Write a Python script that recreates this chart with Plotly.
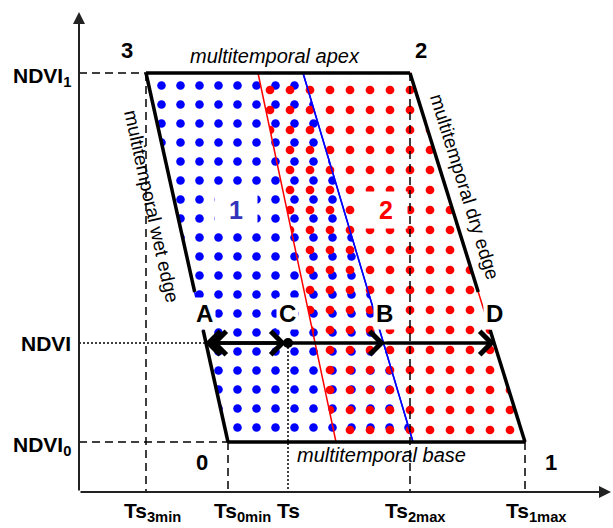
import plotly.graph_objects as go

# ---- data (Ts axis positions and NDVI levels, in chart units) ----
ts_labels = ["Ts<sub>3min</sub>", "Ts<sub>0min</sub>", "Ts", "Ts<sub>2max</sub>", "Ts<sub>1max</sub>"]
ts_values = [146, 228, 288, 410, 525]          # Ts3min, Ts0min, Ts, Ts2max, Ts1max
ndvi_labels = ["NDVI<sub>1</sub>", "NDVI", "NDVI<sub>0</sub>"]
ndvi_values = [455, 185, 86]                    # NDVI1, NDVI, NDVI0

# region 1 (blue) and region 2 (red): Ts at the apex (NDVI1) and base (NDVI0)
region1_apex = [146, 303]
region1_base = [228, 413]
region2_apex = [258, 410]
region2_base = [336, 525]

# points on the NDVI line
point_names = ["A", "C", "B", "D"]
point_ts = [205, 288, 385, 495]

corner_names = ["0", "1", "2", "3"]

origin = [79, 36]
axis_end = [611, 516]

# ---- style ----
FONT = "Liberation Sans, Arial, sans-serif"
BLUE = "#0000ff"
RED = "#ff0000"

ts3, ts0, tsv, ts2, ts1 = ts_values
n1, nv, n0 = ndvi_values


def edge_x(top, bottom, y):
    return top + (bottom - top) * (n1 - y) / (n1 - n0)


fig = go.Figure()

# region fills (dot patterns)
fig.add_trace(go.Scatter(
    x=[region1_apex[0], region1_apex[1], region1_base[1], region1_base[0], region1_apex[0]],
    y=[n1, n1, n0, n0, n1], mode="lines", fill="toself",
    fillcolor="rgba(0,0,0,0)",
    fillpattern=dict(shape=".", size=19, solidity=0.16, fgcolor=BLUE, fgopacity=1,
                     bgcolor="rgba(0,0,0,0)", fillmode="replace"),
    line=dict(color=BLUE, width=1.5), hoverinfo="skip", showlegend=False))
fig.add_trace(go.Scatter(
    x=[region2_apex[0], region2_apex[1], region2_base[1], region2_base[0], region2_apex[0]],
    y=[n1, n1, n0, n0, n1], mode="lines", fill="toself",
    fillcolor="rgba(0,0,0,0)",
    fillpattern=dict(shape=".", size=20, solidity=0.15, fgcolor=RED, fgopacity=1,
                     bgcolor="rgba(0,0,0,0)", fillmode="replace"),
    line=dict(color=RED, width=1.5), hoverinfo="skip", showlegend=False))
# blue boundary on top of red dots
fig.add_trace(go.Scatter(x=[region1_apex[1], region1_base[1]], y=[n1, n0], mode="lines",
                         line=dict(color=BLUE, width=1.5), hoverinfo="skip", showlegend=False))

# black trapezoid edges (with gaps at the A / D labels)
gap_hi, gap_lo = 236, 198
lw = 3.5
fig.add_trace(go.Scatter(x=[ts3, ts2], y=[n1, n1], mode="lines",
                         line=dict(color="black", width=lw), hoverinfo="skip", showlegend=False))
fig.add_trace(go.Scatter(x=[ts0, ts1], y=[n0, n0], mode="lines",
                         line=dict(color="black", width=lw), hoverinfo="skip", showlegend=False))
for top, bot in [(ts3, ts0), (ts2, ts1)]:
    fig.add_trace(go.Scatter(x=[top, edge_x(top, bot, gap_hi), None, edge_x(top, bot, gap_lo), bot],
                             y=[n1, gap_hi, None, gap_lo, n0], mode="lines",
                             line=dict(color="black", width=lw), hoverinfo="skip", showlegend=False))

# reference lines
dash = "8px,5px"
ref_lines = [
    ([origin[0], ts3], [n1, n1], dash),
    ([ts3, ts3], [n1, origin[1]], dash),
    ([origin[0], ts0], [n0, n0], dash),
    ([ts0, ts0], [n0, origin[1]], dash),
    ([ts2, ts2], [n1, origin[1]], dash),
    ([ts1, ts1], [n0, origin[1]], dash),
    ([origin[0], point_ts[0]], [nv, nv], "2px,2px"),
    ([tsv, tsv], [nv, origin[1]], "2px,2px"),
]
for xs, ys, d in ref_lines:
    fig.add_trace(go.Scatter(x=xs, y=ys, mode="lines", line=dict(color="black", width=1.5, dash=d),
                             hoverinfo="skip", showlegend=False))

# NDVI line A-D
fig.add_trace(go.Scatter(x=[point_ts[0], point_ts[3]], y=[nv, nv], mode="lines",
                         line=dict(color="black", width=3), hoverinfo="skip", showlegend=False))
fig.add_trace(go.Scatter(x=[tsv], y=[nv], mode="markers", marker=dict(color="black", size=10),
                         hoverinfo="skip", showlegend=False))

ann = []
# axes with arrows
ann.append(dict(x=origin[0], y=axis_end[1], ax=origin[0], ay=origin[1], axref="x", ayref="y",
                xref="x", yref="y", text="", showarrow=True, arrowhead=2, arrowsize=1.2,
                arrowwidth=2, arrowcolor="#222"))
ann.append(dict(x=axis_end[0], y=origin[1], ax=origin[0], ay=origin[1], axref="x", ayref="y",
                xref="x", yref="y", text="", showarrow=True, arrowhead=2, arrowsize=1.2,
                arrowwidth=2, arrowcolor="#222"))
# arrows on NDVI line
arrow_pairs = [(point_ts[0], tsv), (point_ts[0] + 6, tsv), (tsv - 2, point_ts[0]),
               (point_ts[2], tsv), (point_ts[3], point_ts[2])]
for head, tail in arrow_pairs:
    ann.append(dict(x=head, y=nv, ax=tail, ay=nv, axref="x", ayref="y", xref="x", yref="y",
                    text="", showarrow=True, arrowhead=4, arrowsize=1.5, arrowwidth=3,
                    arrowcolor="black"))

bold = dict(family=FONT, size=22, color="black")
# Ts labels
ts_dx = [6, 14, 0, 5, 11]
for lab, v, dx in zip(ts_labels, ts_values, ts_dx):
    ann.append(dict(x=v + dx, y=31, text="<b>%s</b>" % lab, showarrow=False, xanchor="center",
                    yanchor="top", font=dict(family=FONT, size=21, color="black")))
# NDVI labels
ndvi_dy = [-4, 0, -4]
for lab, v, dy in zip(ndvi_labels, ndvi_values, ndvi_dy):
    ann.append(dict(x=73, y=v + dy, text="<b>%s</b>" % lab, showarrow=False, xanchor="right",
                    yanchor="middle", font=dict(family=FONT, size=21, color="black")))
# corner numbers
corner_pos = [(202, 66), (551, 66), (421, 478), (127, 478)]
for name, (cx, cy) in zip(corner_names, corner_pos):
    ann.append(dict(x=cx, y=cy, text="<b>%s</b>" % name, showarrow=False, font=bold))
# point letters
for name, px in zip(point_names, point_ts):
    ann.append(dict(x=px - 1, y=215, text="<b>%s</b>" % name, showarrow=False, bgcolor="white",
                    borderpad=2, font=dict(family=FONT, size=24, color="black")))
# region numbers
ann.append(dict(x=236, y=318, text="<b>1</b>", showarrow=False, bgcolor="white", width=40, height=34,
                font=dict(family=FONT, size=25, color="#3333bb")))
ann.append(dict(x=386, y=318, text="<b>2</b>", showarrow=False, bgcolor="white", width=40, height=34,
                font=dict(family=FONT, size=25, color=RED)))
# edge names
ital = dict(family=FONT, size=20, color="black")
ann.append(dict(x=275, y=472, text="<i>multitemporal apex</i>", showarrow=False, font=ital))
ann.append(dict(x=381, y=73, text="<i>multitemporal base</i>", showarrow=False, font=ital))
ann.append(dict(x=152, y=322, text="multitemporal wet edge", showarrow=False, textangle=77.5,
                font=dict(family=FONT, size=19, color="black")))
ann.append(dict(x=465, y=342, text="multitemporal dry edge", showarrow=False, textangle=72.7,
                font=dict(family=FONT, size=19, color="black")))

fig.update_layout(
    width=613, height=528, margin=dict(l=0, r=0, t=0, b=0),
    paper_bgcolor="white", plot_bgcolor="white",
    xaxis=dict(range=[0, 613], visible=False, fixedrange=True),
    yaxis=dict(range=[0, 528], visible=False, fixedrange=True),
    annotations=ann, showlegend=False,
)
fig.write_html("out.html", config={"displayModeBar": False},
               post_script="document.body.style.margin='0';document.body.style.padding='0';")
